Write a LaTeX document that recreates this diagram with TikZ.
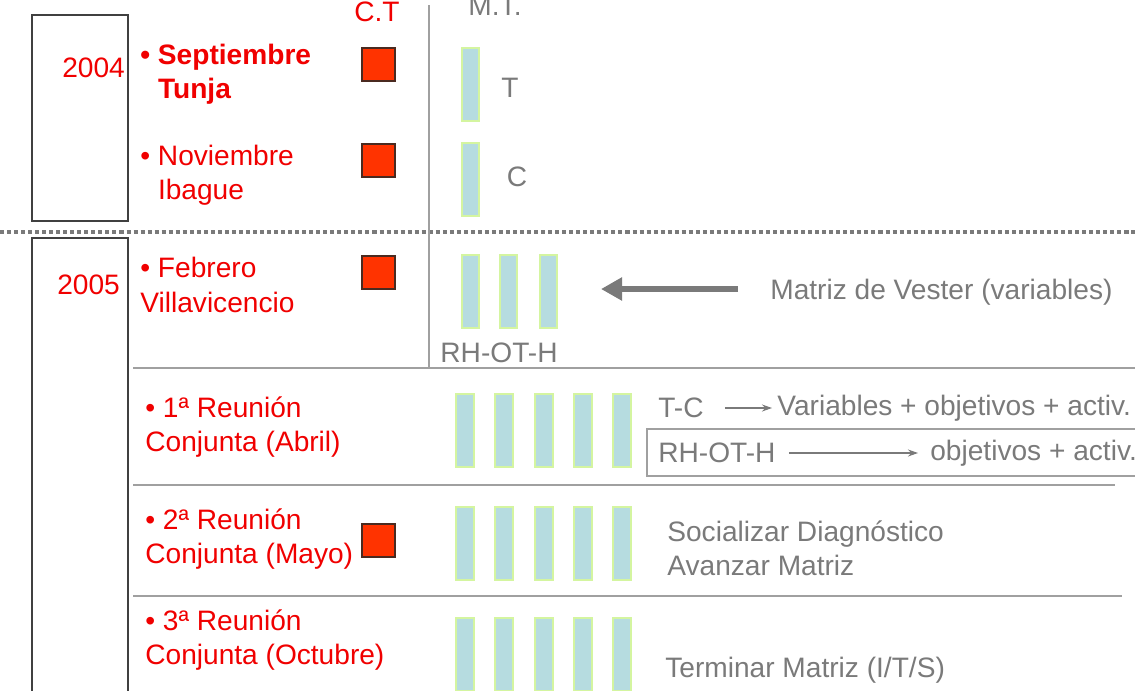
\documentclass[tikz,border=0pt]{standalone}
\usepackage{fontspec}
\setmainfont{Liberation Sans}
\usetikzlibrary{arrows.meta}
\definecolor{ctred}{HTML}{FF3300}
\definecolor{ctedge}{HTML}{4A2A20}
\definecolor{mtblue}{HTML}{B6DCE0}
\definecolor{mtedge}{HTML}{D4F5A0}
\definecolor{txtgray}{HTML}{7A7A7A}
\definecolor{txtred}{HTML}{F00000}
\definecolor{rulegray}{HTML}{A0A0A0}
\tikzset{every node/.style={inner sep=0pt, font=\fontsize{16}{19.5}\selectfont},
	rtxt/.style={text=txtred, anchor=west, align=left},
	gtxt/.style={text=txtgray, anchor=west, align=left},
	boldtxt/.style={font=\fontsize{16}{19.5}\selectfont\bfseries},
	ctsq/.style={fill=ctred, draw=ctedge, line width=0.6pt},
	mtbar/.style={fill=mtblue, draw=mtedge, line width=0.6pt},
	rule/.style={draw=rulegray, line width=1pt},
	yearbox/.style={draw=black!75, line width=1pt}}

\begin{document}
\begin{tikzpicture}[x=0.02cm, y=-0.02cm, >={Stealth[length=0.2cm,width=0.14cm]}]
	\useasboundingbox (0,0) rectangle (1135,690);
	\clip (0,0) rectangle (1135,690);
	\draw[yearbox] (32,15) rectangle (128,221);
	\draw[yearbox] (32,700) |- (128,238) -- (128,700);
	\draw[txtgray, line width=2.3pt, dash pattern=on 2.3pt off 1.7pt] (0,232) -- (1135,232);
	\draw[rule] (429,5) -- (429,368);
	\draw[rule] (133,368) -- (1135,368);
	\draw[rule] (133,485) -- (1115,485);
	\draw[rule] (133,596) -- (1122,596);
	\draw[rule] (647,429) rectangle (1145,476);
	\foreach \y in {48,144,256,524}
		\draw[ctsq] (362,\y) rectangle ++(33,33);
	\foreach \y in {48,143}
		\draw[mtbar] (462,\y) rectangle ++(17,73);
	\foreach \x in {462,500,540}
		\draw[mtbar] (\x,255) rectangle ++(17,73);
	\foreach \y in {394,507,618}
		\foreach \x in {456,495,535,574,613}
			\draw[mtbar] (\x,\y) rectangle ++(18,73);

	\node[text=txtred] (ct) at (377,12) {C.T};
	\node[text=txtgray] (mt) at (495,6) {M.T.};
	\node[rtxt] (y4) at (62,68) {2004};
	\node[rtxt] (y5) at (57,285) {2005};
	\node[rtxt, boldtxt] (sep) at (140,74) {\textbullet\ Septiembre\\\phantom{\textbullet\ }Tunja};
	\node[rtxt] (nov) at (140,175) {\textbullet\ Noviembre\\\phantom{\textbullet\ }Ibague};
	\node[rtxt] (feb) at (140,285) {\textbullet\ Febrero\\Villavicencio};
	\node[rtxt] (r1) at (145,427) {\textbullet\ 1ª Reunión\\Conjunta (Abril)};
	\node[rtxt] (r2) at (145,539) {\textbullet\ 2ª Reunión\\Conjunta (Mayo)};
	\node[rtxt] (r3) at (145,640) {\textbullet\ 3ª Reunión\\Conjunta (Octubre)};
	\node[text=txtgray] (t) at (510,88) {T};
	\node[text=txtgray] (c) at (517,177) {C};
	\node[text=txtgray] (rh) at (499,353) {RH-OT-H};
	\node[gtxt] (vester) at (770,292) {Matriz de Vester (variables)};
	\node[gtxt] (tc) at (658,408) {T-C};
	\node[gtxt] (var) at (777,408) {Variables + objetivos + activ.};
	\node[gtxt] (rh2) at (658,453) {RH-OT-H};
	\node[gtxt] (obj) at (930,453) {objetivos + activ.};
	\node[gtxt] (soc) at (667,548) {Socializar Diagnóstico\\Avanzar Matriz};
	\node[gtxt] (fin) at (665,670) {Terminar Matriz (I/T/S)};

	\coordinate (vtip) at (601,289);
	\draw[-{Triangle[length=0.42cm,width=0.44cm]}, txtgray, line width=3.7pt, shorten <=0.64cm] (vester.west |- vtip) -- (vtip);
	\draw[->, txtgray, line width=0.6pt, shorten <=0.42cm, shorten >=0.1cm] (tc.east) -- (var.west);
	\draw[->, txtgray, line width=0.6pt, shorten <=0.26cm, shorten >=0.24cm] (rh2.east) -- (obj.west);
\end{tikzpicture}
\end{document}
